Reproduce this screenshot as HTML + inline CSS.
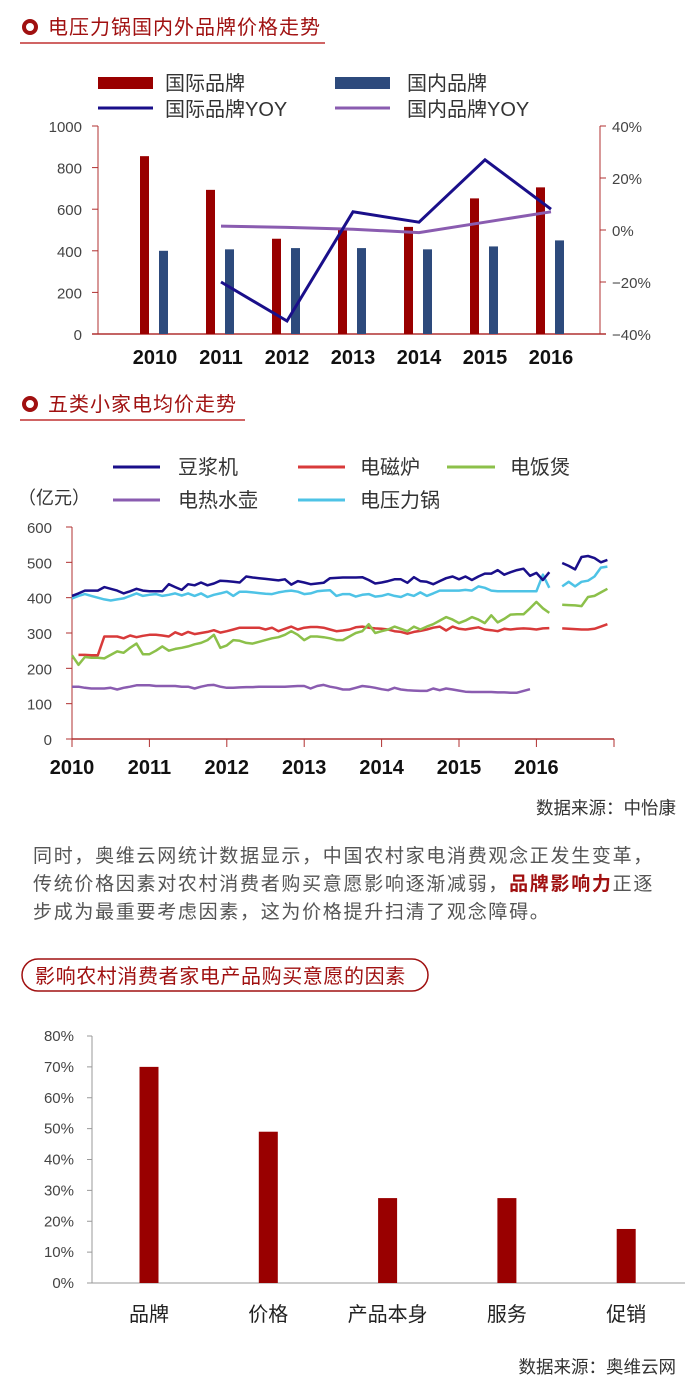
<!DOCTYPE html>
<html><head><meta charset="utf-8">
<style>
body{margin:0;background:#fff;width:700px;height:1400px;overflow:hidden;font-family:"Liberation Sans","Noto Sans CJK SC",sans-serif;}
svg{display:block}
</style></head>
<body>
<svg id="s" width="700" height="1400" xmlns="http://www.w3.org/2000/svg" font-family="Liberation Sans, Noto Sans CJK SC, sans-serif">
<g>
<circle cx="30" cy="27" r="6" fill="none" stroke="#a01010" stroke-width="4"/>
<text x="48" y="34" font-size="20" letter-spacing="1" fill="#a01010">电压力锅国内外品牌价格走势</text>
<line x1="20" y1="43" x2="325" y2="43" stroke="#c03030" stroke-width="1.5"/>
</g>
<g>
<rect x="98" y="77" width="55" height="12" fill="#990000"/><text x="165" y="90" font-size="20" fill="#333">国际品牌</text>
<rect x="335" y="77" width="55" height="12" fill="#2d4a7c"/><text x="407" y="90" font-size="20" fill="#333">国内品牌</text>
<line x1="98" y1="108" x2="153" y2="108" stroke="#1a0f8a" stroke-width="3"/><text x="165" y="116" font-size="20" fill="#333">国际品牌YOY</text>
<line x1="335" y1="108" x2="390" y2="108" stroke="#8a5cb0" stroke-width="3"/><text x="407" y="116" font-size="20" fill="#333">国内品牌YOY</text>
</g>
<g id="c1"></g>
<g>
<circle cx="30" cy="404" r="6" fill="none" stroke="#a01010" stroke-width="4"/>
<text x="48" y="411" font-size="20" letter-spacing="1" fill="#a01010">五类小家电均价走势</text>
<line x1="20" y1="420" x2="245" y2="420" stroke="#c03030" stroke-width="1.5"/>
</g>
<g font-size="20" fill="#333">
<line x1="113" y1="467" x2="160" y2="467" stroke="#1a0f8a" stroke-width="3"/><text x="178" y="474">豆浆机</text>
<line x1="298" y1="467" x2="345" y2="467" stroke="#d83a3a" stroke-width="3"/><text x="360" y="474">电磁炉</text>
<line x1="447" y1="467" x2="495" y2="467" stroke="#8cc04a" stroke-width="3"/><text x="510" y="474">电饭煲</text>
<line x1="113" y1="500" x2="160" y2="500" stroke="#8a5cb0" stroke-width="3"/><text x="178" y="507">电热水壶</text>
<line x1="298" y1="500" x2="345" y2="500" stroke="#4ec3e6" stroke-width="3"/><text x="360" y="507">电压力锅</text>
<text x="18" y="504" font-size="18">（亿元）</text>
</g>
<g id="c2"></g>
<text x="676" y="814" font-size="17.5" fill="#333" text-anchor="end">数据来源：中怡康</text>
<g font-size="19" letter-spacing="1.7" fill="#555">
<text x="33" y="862">同时，奥维云网统计数据显示，中国农村家电消费观念正发生变革，</text>
<text x="33" y="890">传统价格因素对农村消费者购买意愿影响逐渐减弱，<tspan fill="#a01010" font-weight="bold">品牌影响力</tspan>正逐</text>
<text x="33" y="918">步成为最重要考虑因素，这为价格提升扫清了观念障碍。</text>
</g>
<g>
<rect x="22" y="959" width="406" height="32" rx="16" fill="none" stroke="#a01010" stroke-width="1.5"/>
<text x="35" y="983" font-size="20" letter-spacing="0.6" fill="#a01010">影响农村消费者家电产品购买意愿的因素</text>
</g>
<g id="c3"></g>
<text x="676" y="1373" font-size="17.5" fill="#333" text-anchor="end">数据来源：奥维云网</text>
</svg>
<script>
var NS="http://www.w3.org/2000/svg";
function mk(p,t,a,txt){var e=document.createElementNS(NS,t);for(var k in a)e.setAttribute(k,a[k]);if(txt!=null)e.textContent=txt;p.appendChild(e);return e;}

// ---- Chart 1 data ----
var years1=["2010","2011","2012","2013","2014","2015","2016"];
var intlPrice=[855,693,458,500,515,652,705];
var domPrice=[400,407,413,413,407,421,450];
var intlYoy=[null,-20,-35,7,3,27,8];
var domYoy=[null,1.5,1,0.3,-1,3,7];
var leftTicks1=[0,200,400,600,800,1000];
var rightTicks1=[-40,-20,0,20,40];

// ---- Chart 2 data (monthly 2010-01 .. 2016-12) ----
var years2=["2010","2011","2012","2013","2014","2015","2016"];
var soy=[405,412,420,420,420,430,425,420,412,418,425,420,418,418,418,438,430,422,438,435,443,435,440,448,447,445,443,460,457,455,453,451,449,452,437,447,443,438,440,442,455,456,457,457,457,458,450,440,443,447,452,452,442,458,447,445,438,447,455,460,452,460,450,460,468,468,478,465,472,478,482,462,470,450,472,null,498,490,480,515,518,512,500,507];
var induc=[null,238,238,237,237,290,290,290,285,293,288,292,295,295,293,290,302,295,303,297,300,303,308,301,305,310,315,315,315,315,310,315,305,312,318,310,315,317,317,315,310,305,307,310,316,318,315,313,312,310,305,303,298,303,306,310,315,318,307,318,312,310,313,316,310,308,305,312,310,312,313,312,310,313,314,null,313,312,311,310,310,312,318,325];
var rice=[237,210,232,230,230,228,238,248,244,258,270,240,240,250,262,250,255,258,262,268,272,280,295,258,265,280,278,272,270,275,280,285,288,295,305,295,280,290,290,288,285,280,280,290,300,305,325,300,305,310,318,312,305,318,310,318,325,335,345,338,328,335,345,338,328,350,330,340,352,353,353,370,388,370,357,null,380,379,378,376,402,405,415,425];
var kettle=[148,148,145,143,143,143,145,140,145,148,152,152,152,150,150,150,150,148,148,143,148,152,153,148,145,145,146,147,147,148,148,148,148,148,149,150,150,143,150,153,148,145,140,140,145,150,148,145,141,138,145,140,138,137,136,136,143,138,143,140,137,134,133,133,133,133,132,132,131,131,136,141,null,null,null,null,null,null,null,null,null,null,null,null];
var cooker=[398,405,410,405,400,395,392,395,398,405,412,405,408,410,405,408,412,406,412,405,412,402,408,412,417,405,417,417,415,413,411,410,415,418,420,417,410,412,418,420,421,405,410,410,403,408,410,403,405,410,405,402,410,405,415,405,412,420,420,420,420,422,420,432,428,420,418,418,418,418,418,418,418,465,428,null,432,445,432,445,448,460,485,488];
var leftTicks2=[0,100,200,300,400,500,600];

// ---- Chart 3 data ----
var factors=["品牌","价格","产品本身","服务","促销"];
var factorVals=[70,49,27.5,27.5,17.5];
var ticks3=[0,10,20,30,40,50,60,70,80];

// ===== Chart 1 =====
(function(){
var g=document.getElementById('c1');
var X0=98,X1=600,YT=126,YB=334;
function yL(v){return YB-(v/1000)*(YB-YT);}
function yR(v){return YB-((v+40)/80)*(YB-YT);}
function cx(i){return 155+i*66;}
var ax=mk(g,'g',{});


mk(ax,'line',{x1:X0,y1:YT,x2:X0,y2:YB,stroke:'#b03030','stroke-width':1});
mk(ax,'line',{x1:X1,y1:YT,x2:X1,y2:YB,stroke:'#b03030','stroke-width':1});
mk(ax,'line',{x1:X0-6,y1:YB,x2:X1+6,y2:YB,stroke:'#b03030','stroke-width':1.5});
leftTicks1.forEach(function(t){var y=yL(t);
 mk(ax,'line',{x1:X0-6,y1:y,x2:X0,y2:y,stroke:'#b03030'});
 var e=mk(ax,'text',{x:X0-16,y:y+6,'font-size':15,fill:'#444','text-anchor':'end'},String(t));
 
 });
rightTicks1.forEach(function(t){var y=yR(t);
 mk(ax,'line',{x1:X1,y1:y,x2:X1+6,y2:y,stroke:'#b03030'});
 var e=mk(ax,'text',{x:X1+12,y:y+6,'font-size':15,fill:'#444'},(t<0?'−':'')+Math.abs(t)+'%');
 
 });
years1.forEach(function(yr,i){
 var e=mk(ax,'text',{x:cx(i),y:364,'font-size':20,fill:'#111','text-anchor':'middle','font-weight':'bold'},yr);
 
 
 var r=mk(g,'rect',{x:cx(i)-15,y:yL(intlPrice[i]),width:9,height:YB-yL(intlPrice[i]),fill:'#990000'});
 
 
 var b=mk(g,'rect',{x:cx(i)+4,y:yL(domPrice[i]),width:9,height:YB-yL(domPrice[i]),fill:'#2d4a7c'});
 
 
});
function line(arr,col,name){var p=[];arr.forEach(function(v,i){if(v!=null)p.push(cx(i)+','+yR(v));});
 var e=mk(g,'polyline',{points:p.join(' '),fill:'none',stroke:col,'stroke-width':3});
 
 }
line(domYoy,'#8a5cb0','line-dom-yoy');
line(intlYoy,'#1a0f8a','line-intl-yoy');
})();

// ===== Chart 2 =====
(function(){
var g=document.getElementById('c2');
var X0=72,X1=614,YT=527,YB=739,step=6.45;
function y(v){return YB-(v/600)*(YB-YT);}
function x(i){return X0+i*step;}
var ax=mk(g,'g',{});


mk(ax,'line',{x1:X0,y1:YT,x2:X0,y2:YB,stroke:'#b03030'});
mk(ax,'line',{x1:X0,y1:YB,x2:X1,y2:YB,stroke:'#b03030','stroke-width':1.5});
mk(ax,'line',{x1:X1,y1:YB,x2:X1,y2:YB+8,stroke:'#b03030'});
leftTicks2.forEach(function(t){var yy=y(t);
 mk(ax,'line',{x1:X0-6,y1:yy,x2:X0,y2:yy,stroke:'#b03030'});
 var e=mk(ax,'text',{x:X0-20,y:yy+6,'font-size':15,fill:'#444','text-anchor':'end'},String(t));
 
 });
years2.forEach(function(yr,i){var xx=x(i*12);
 mk(ax,'line',{x1:xx,y1:YB,x2:xx,y2:YB+8,stroke:'#b03030'});
 var e=mk(ax,'text',{x:xx,y:774,'font-size':20,fill:'#111','text-anchor':'middle','font-weight':'bold'},yr);
 
 });
function series(arr,col,name){var segs=[],cur=[];
 arr.forEach(function(v,i){if(v==null){if(cur.length)segs.push(cur);cur=[];}else cur.push(x(i).toFixed(1)+','+y(v).toFixed(1));});
 if(cur.length)segs.push(cur);
 var d=segs.map(function(s){return 'M'+s.join(' L');}).join(' ');
 var e=mk(g,'path',{d:d,fill:'none',stroke:col,'stroke-width':2.5,'stroke-linejoin':'round'});
 
 }
series(kettle,'#8a5cb0','line-kettle');
series(induc,'#d83a3a','line-induction');
series(rice,'#8cc04a','line-rice-cooker');
series(cooker,'#4ec3e6','line-pressure-cooker');
series(soy,'#1a0f8a','line-soymilk');
})();

// ===== Chart 3 =====
(function(){
var g=document.getElementById('c3');
var X0=92,X1=685,YT=1036,YB=1283;
function y(v){return YB-(v/80)*(YB-YT);}
function cx(i){return 149+i*119.3;}
var ax=mk(g,'g',{});


mk(ax,'line',{x1:X0,y1:YT,x2:X0,y2:YB,stroke:'#999'});
mk(ax,'line',{x1:X0,y1:YB,x2:X1,y2:YB,stroke:'#999'});
ticks3.forEach(function(t){var yy=y(t);
 mk(ax,'line',{x1:X0-5,y1:yy,x2:X0,y2:yy,stroke:'#999'});
 var e=mk(ax,'text',{x:X0-18,y:yy+5,'font-size':15,fill:'#444','text-anchor':'end'},t+'%');
 
 });
factors.forEach(function(f,i){
 var r=mk(g,'rect',{x:cx(i)-9.5,y:y(factorVals[i]),width:19,height:YB-y(factorVals[i]),fill:'#990000'});
 
 
 var e=mk(ax,'text',{x:cx(i),y:1321,'font-size':20,fill:'#222','text-anchor':'middle'},f);
 
 });
})();
</script>
</body></html>
